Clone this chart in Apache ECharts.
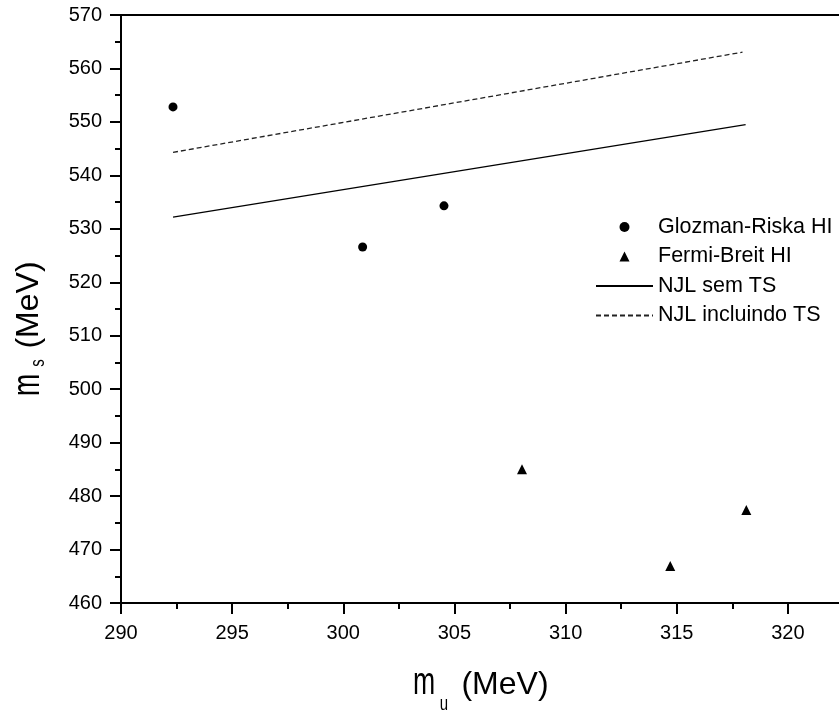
<!DOCTYPE html>
<html>
<head>
<meta charset="utf-8">
<script src="https://cdn.jsdelivr.net/npm/echarts@6/dist/echarts.min.js"></script>
<style>
html,body{margin:0;padding:0;background:#fff;}
#chart{width:839px;height:711px;}
</style>
</head>
<body>
<div id="chart"></div>
<script>
// ---- data ----
var seriesNames = ['Glozman-Riska HI', 'Fermi-Breit HI', 'NJL sem TS', 'NJL incluindo TS'];
var glozmanX = [292.34, 300.87, 304.53];
var glozmanY = [552.8, 526.6, 534.3];
var fermiX = [308.04, 314.71, 318.13];
var fermiY = [485.0, 466.9, 477.4];
var njlSemX = [292.34, 318.10];
var njlSemY = [532.2, 549.5];
var njlInclX = [292.34, 317.96];
var njlInclY = [544.3, 563.05];
var xMin = 290, xMax = 325, xStep = 5;
var yMin = 460, yMax = 570, yStep = 10;

function pairs(xs, ys) { return xs.map(function (x, i) { return [x, ys[i]]; }); }

var FONT = 'Liberation Sans, Arial, Helvetica, sans-serif';
var chart = echarts.init(document.getElementById('chart'), null, {renderer: 'canvas'});

var axisCommon = {
  axisLine: {show: true, onZero: false, lineStyle: {color: '#000', width: 2}},
  axisTick: {show: true, inside: false, length: 11, lineStyle: {color: '#000', width: 2}},
  minorTick: {show: true, splitNumber: 2, length: 6, lineStyle: {color: '#000', width: 2}},
  splitLine: {show: false},
  minorSplitLine: {show: false}
};

var TRIANGLE_ICON = 'path://M5,0 L10,10 L0,10 Z';

var option = {
  animation: false,
  backgroundColor: '#fff',
  grid: {left: 121, right: -60, top: 15, bottom: 108, containLabel: false, outerBoundsMode: 'none',
         show: true, borderColor: '#000', borderWidth: 2, backgroundColor: 'transparent'},
  xAxis: Object.assign({
    type: 'value', min: xMin, max: xMax, interval: xStep,
    axisLabel: {color: '#000', fontSize: 20, fontFamily: FONT, margin: 20}
  }, axisCommon),
  yAxis: Object.assign({
    type: 'value', min: yMin, max: yMax, interval: yStep,
    axisLabel: {color: '#000', fontSize: 20, fontFamily: FONT, margin: 19}
  }, axisCommon),
  legend: {
    orient: 'vertical', left: 590, top: 211,
    itemWidth: 57, itemHeight: 10, itemGap: 7.5,
    symbolKeepAspect: true,
    textStyle: {color: '#000', fontSize: 21.5, fontFamily: FONT},
    data: [
      {name: seriesNames[0]},
      {name: seriesNames[1], icon: TRIANGLE_ICON},
      {name: seriesNames[2], itemStyle: {opacity: 0}},
      {name: seriesNames[3], itemStyle: {opacity: 0}}
    ]
  },
  series: [
    {name: seriesNames[0], type: 'scatter', symbol: 'circle', symbolSize: 9,
     itemStyle: {color: '#000', opacity: 1}, data: pairs(glozmanX, glozmanY)},
    {name: seriesNames[1], type: 'scatter', symbol: 'triangle', symbolSize: 10,
     itemStyle: {color: '#000', opacity: 1}, data: pairs(fermiX, fermiY)},
    {name: seriesNames[2], type: 'line', symbol: 'none', showSymbol: false,
     itemStyle: {color: '#000'}, lineStyle: {color: '#000', width: 1.3, type: 'solid'},
     data: pairs(njlSemX, njlSemY)},
    {name: seriesNames[3], type: 'line', symbol: 'none', showSymbol: false,
     itemStyle: {color: '#222'}, lineStyle: {color: '#222', width: 1.3, type: [5, 3]},
     data: pairs(njlInclX, njlInclY)}
  ],
  graphic: [
    // x axis title: m_u (MeV)
    {type: 'text', x: 424, y: 684, scaleX: 0.7, style: {text: 'm', fontSize: 38, fontFamily: FONT, fill: '#000', align: 'center', verticalAlign: 'middle'}},
    {type: 'text', x: 444, y: 704, scaleX: 0.75, style: {text: 'u', fontSize: 20, fontFamily: FONT, fill: '#000', align: 'center', verticalAlign: 'middle'}},
    {type: 'text', x: 505, y: 685, style: {text: '(MeV)', fontSize: 32, fontFamily: FONT, fill: '#000', align: 'center', verticalAlign: 'middle'}},
    // y axis title: m_s (MeV)
    {type: 'text', x: 29, y: 385, rotation: Math.PI / 2, scaleX: 0.7, style: {text: 'm', fontSize: 38, fontFamily: FONT, fill: '#000', align: 'center', verticalAlign: 'middle'}},
    {type: 'text', x: 38, y: 363, rotation: Math.PI / 2, scaleX: 0.75, style: {text: 's', fontSize: 20, fontFamily: FONT, fill: '#000', align: 'center', verticalAlign: 'middle'}},
    {type: 'text', x: 29, y: 305, rotation: Math.PI / 2, style: {text: '(MeV)', fontSize: 32, fontFamily: FONT, fill: '#000', align: 'center', verticalAlign: 'middle'}}
  ]
};
chart.setOption(option);
</script>
</body>
</html>
